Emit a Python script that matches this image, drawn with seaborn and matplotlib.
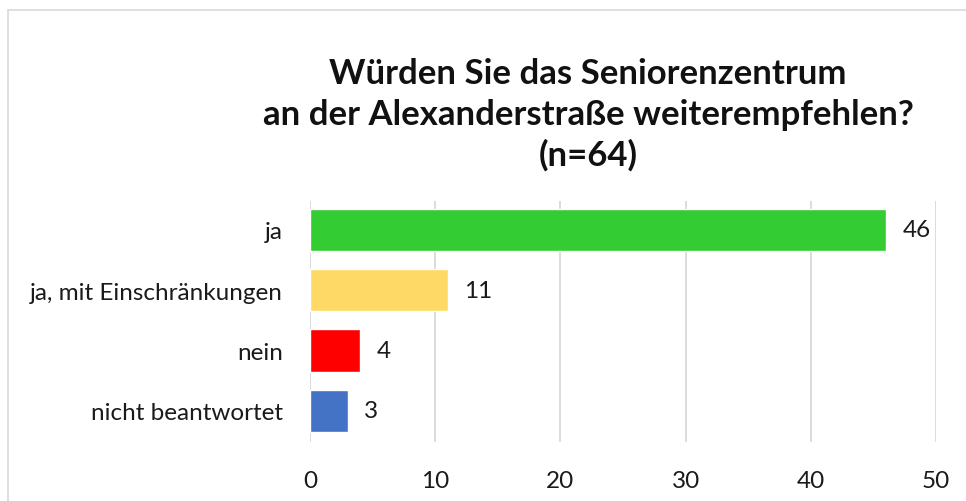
import numpy as np
import matplotlib
matplotlib.use('Agg')
import matplotlib.pyplot as plt
import pandas as pd
import seaborn as sns
from matplotlib.lines import Line2D

# data
antworten = ['ja', 'ja, mit Einschränkungen', 'nein', 'nicht beantwortet']
anzahl = [46, 11, 4, 3]
farben = ['#33CC33', '#FFD966', '#FF0000', '#4472C4']
titel = 'Würden Sie das Seniorenzentrum\nan der Alexanderstraße weiterempfehlen?\n(n=64)'

df = pd.DataFrame({'antwort': antworten, 'anzahl': anzahl})

sns.set_style('white')
plt.rcParams['font.family'] = ['Lato', 'DejaVu Sans']

fig = plt.figure(figsize=(9.66, 5.02), dpi=100)
ax = fig.add_axes([0.3209, 0.1175, 0.969 - 0.3209, 0.5976 - 0.1175])

sns.barplot(data=df, x='anzahl', y='antwort', hue='antwort', palette=farben,
            legend=False, width=0.7, saturation=1, ax=ax)

ax.set_xlim(0, 50)
ax.set_ylim(3.52, -0.48)
ax.set_xticks(np.arange(0, 51, 10))
ax.grid(axis='x', color='#D9D9D9', linewidth=1.3)
ax.set_axisbelow(True)
for s in ax.spines.values():
    s.set_visible(False)
ax.set_xlabel('')
ax.set_ylabel('')
ax.tick_params(axis='both', length=0, labelsize=17.5, colors='#1a1a1a')
ax.tick_params(axis='x', pad=20)
ax.tick_params(axis='y', pad=19.5)

for i, v in enumerate(anzahl):
    ax.annotate(str(v), (v, i), xytext=(12, 0), textcoords='offset points',
                ha='left', va='center', fontsize=17.5, color='#1a1a1a')

fig.text(0.6087, 0.771, titel, ha='center', va='center', fontsize=25,
         fontweight='bold', linespacing=1.33, color='#111111')

# chart area border (top and left)
fig.add_artist(Line2D([8 / 966, 1], [1 - 11 / 502, 1 - 11 / 502], transform=fig.transFigure,
                      color='#D9D9D9', linewidth=1.2))
fig.add_artist(Line2D([8 / 966, 8 / 966], [0, 1 - 11 / 502], transform=fig.transFigure,
                      color='#D9D9D9', linewidth=1.2))

fig.savefig('out.png', dpi=100)
